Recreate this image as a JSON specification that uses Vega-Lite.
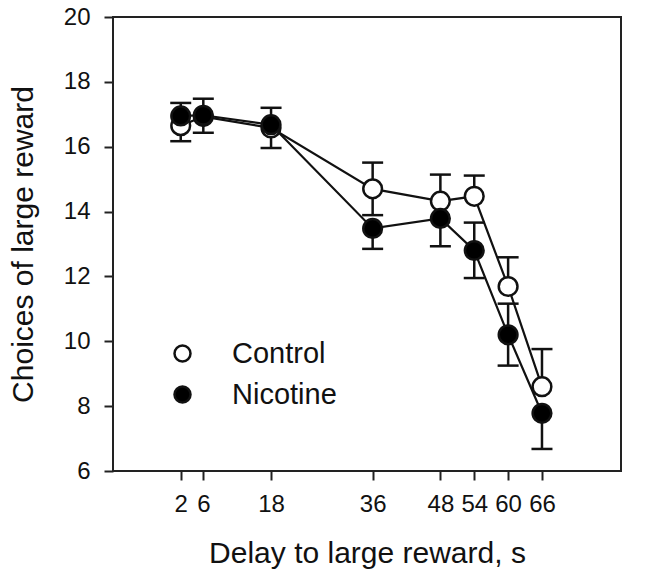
{
  "$schema": "https://vega.github.io/schema/vega-lite/v6.json",
  "width": 508,
  "height": 454,
  "autosize": {"type": "none"},
  "padding": {"left": 113, "top": 17, "right": 25, "bottom": 98},
  "background": "white",
  "data": {
    "values": [
      {"delay": 2, "group": "Control", "mean": 16.65, "lo": 16.17, "hi": null},
      {"delay": 6, "group": "Control", "mean": 16.93, "lo": 16.43, "hi": 17.48},
      {"delay": 18, "group": "Control", "mean": 16.58, "lo": 15.96, "hi": 17.2},
      {"delay": 36, "group": "Control", "mean": 14.7, "lo": 13.89, "hi": 15.51},
      {"delay": 48, "group": "Control", "mean": 14.32, "lo": null, "hi": 15.14},
      {"delay": 54, "group": "Control", "mean": 14.47, "lo": null, "hi": 15.11},
      {"delay": 60, "group": "Control", "mean": 11.69, "lo": null, "hi": 12.59},
      {"delay": 66, "group": "Control", "mean": 8.6, "lo": null, "hi": 9.76},
      {"delay": 2, "group": "Nicotine", "mean": 16.95, "lo": null, "hi": 17.35},
      {"delay": 6, "group": "Nicotine", "mean": 16.97, "lo": null, "hi": null},
      {"delay": 18, "group": "Nicotine", "mean": 16.68, "lo": null, "hi": null},
      {"delay": 36, "group": "Nicotine", "mean": 13.48, "lo": 12.85, "hi": null},
      {"delay": 48, "group": "Nicotine", "mean": 13.79, "lo": 12.93, "hi": null},
      {"delay": 54, "group": "Nicotine", "mean": 12.8, "lo": 11.95, "hi": 13.66},
      {"delay": 60, "group": "Nicotine", "mean": 10.2, "lo": 9.25, "hi": 11.16},
      {"delay": 66, "group": "Nicotine", "mean": 7.78, "lo": 6.68, "hi": null}
    ]
  },
  "encoding": {
    "x": {
      "field": "delay",
      "type": "quantitative",
      "scale": {"domain": [-10, 80], "nice": false, "zero": false},
      "axis": {
        "values": [2, 6, 18, 36, 48, 54, 60, 66],
        "title": "Delay to large reward, s",
        "labelPadding": 12,
        "titleY": 91,
        "titleBaseline": "alphabetic"
      }
    }
  },
  "layer": [
    {
      "mark": {"type": "line", "color": "#111", "strokeWidth": 2.2},
      "encoding": {
        "y": {
          "field": "mean",
          "type": "quantitative",
          "scale": {"domain": [6, 20], "nice": false, "zero": false},
          "axis": {
            "values": [6, 8, 10, 12, 14, 16, 18, 20],
            "title": "Choices of large reward",
            "labelPadding": 14,
            "titleX": -81,
            "titleY": 227,
            "titleAngle": -90,
            "titleAlign": "center",
            "titleBaseline": "alphabetic"
          }
        },
        "detail": {"field": "group"}
      }
    },
    {
      "transform": [{"filter": {"field": "hi", "valid": true}}],
      "mark": {"type": "rule", "color": "#111", "strokeWidth": 2.5},
      "encoding": {
        "y": {"field": "mean", "type": "quantitative", "title": "Choices of large reward"},
        "y2": {"field": "hi"}
      }
    },
    {
      "transform": [{"filter": {"field": "lo", "valid": true}}],
      "mark": {"type": "rule", "color": "#111", "strokeWidth": 2.5},
      "encoding": {
        "y": {"field": "mean", "type": "quantitative", "title": "Choices of large reward"},
        "y2": {"field": "lo"}
      }
    },
    {
      "transform": [{"filter": {"field": "lo", "valid": true}}],
      "mark": {"type": "tick", "orient": "horizontal", "color": "#111", "size": 21, "thickness": 2.5, "opacity": 1},
      "encoding": {
        "y": {"field": "lo", "type": "quantitative", "title": "Choices of large reward"}
      }
    },
    {
      "transform": [{"filter": {"field": "hi", "valid": true}}],
      "mark": {"type": "tick", "orient": "horizontal", "color": "#111", "size": 21, "thickness": 2.5, "opacity": 1},
      "encoding": {
        "y": {"field": "hi", "type": "quantitative", "title": "Choices of large reward"}
      }
    },
    {
      "mark": {"type": "point", "shape": "circle", "filled": false, "stroke": "#111", "strokeWidth": 2.5, "size": 350, "opacity": 1},
      "encoding": {
        "y": {"field": "mean", "type": "quantitative", "title": "Choices of large reward"},
        "fill": {
          "field": "group",
          "type": "nominal",
          "scale": {"domain": ["Control", "Nicotine"], "range": ["white", "black"]},
          "legend": {
            "title": null,
            "orient": "none",
            "legendX": 55,
            "legendY": 322,
            "symbolType": "circle",
            "symbolSize": 256,
            "symbolStrokeColor": "#111",
            "symbolStrokeWidth": 2.5,
            "symbolOpacity": 1,
            "labelFontSize": 29,
            "labelFont": "Liberation Sans",
            "labelColor": "#111",
            "labelOffset": 35,
            "rowPadding": 11,
            "padding": 0
          }
        }
      }
    }
  ],
  "config": {
    "view": {"stroke": "#222", "strokeWidth": 2},
    "axis": {
      "domain": false,
      "grid": false,
      "ticks": true,
      "tickSize": 9,
      "tickWidth": 2,
      "tickColor": "#222",
      "labelFont": "Liberation Sans",
      "labelFontSize": 24,
      "labelColor": "#111",
      "titleFont": "Liberation Sans",
      "titleFontSize": 30,
      "titleFontWeight": "normal",
      "titleColor": "#111"
    }
  }
}
